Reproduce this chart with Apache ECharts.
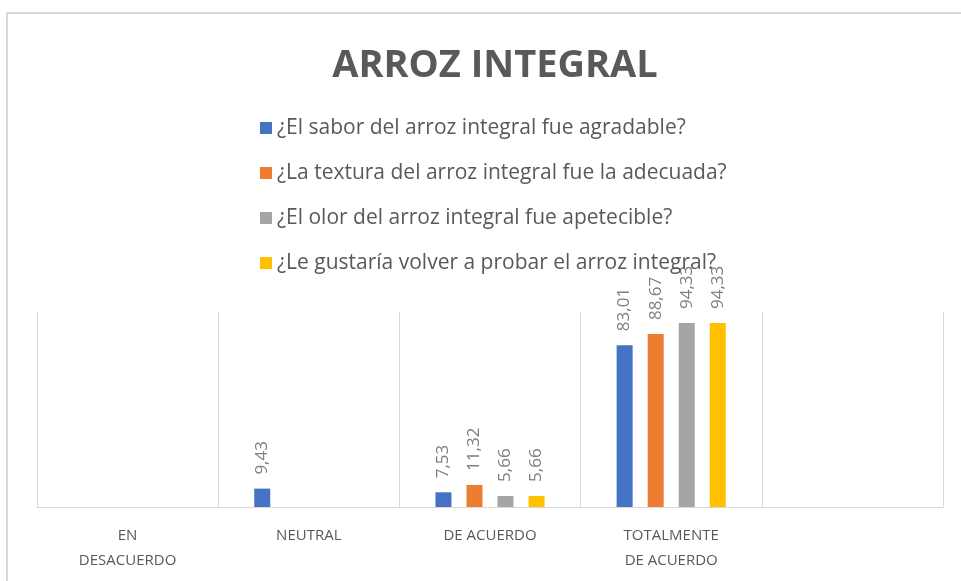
<!DOCTYPE html>
<html>
<head>
<meta charset="utf-8">
<script src="https://cdn.jsdelivr.net/npm/echarts@6/dist/echarts.min.js"></script>
<style>
  html, body { margin: 0; padding: 0; background: #fff; }
  #chart { width: 961px; height: 581px; }
</style>
</head>
<body>
<div id="chart"></div>
<script>
// categories and answers (percentages)
var categories = ['EN\nDESACUERDO', 'NEUTRAL', 'DE ACUERDO', 'TOTALMENTE\nDE ACUERDO', '']
var seriesNames = [
  '¿El sabor del arroz integral fue agradable?',
  '¿La textura del arroz integral fue la adecuada?',
  '¿El olor del arroz integral fue apetecible?',
  '¿Le gustaría volver a probar el arroz integral?'
]
var sabor = [null, 9.43, 7.53, 83.01, null]
var textura = [null, null, 11.32, 88.67, null]
var olor = [null, null, 5.66, 94.33, null]
var volver = [null, null, 5.66, 94.33, null]

var colors = ['#4472c4', '#ed7d31', '#a5a5a5', '#ffc000']
var font = '"Open Sans", sans-serif'

var myChart = echarts.init(document.getElementById('chart'))

function makeSeries (name, data) {
  return {
    name: name,
    type: 'bar',
    data: data,
    barWidth: 16,
    barGap: '94%',
    label: {
      show: true,
      position: 'top',
      rotate: 90,
      align: 'left',
      verticalAlign: 'middle',
      distance: 14,
      color: '#7f7f7f',
      fontFamily: font,
      fontSize: 17,
      formatter: function (p) {
        return p.value == null ? '' : p.value.toFixed(2).replace('.', ',')
      }
    }
  }
}

myChart.setOption({
  color: colors,
  animation: false,
  title: {
    text: 'ARROZ INTEGRAL',
    left: 490,
    textAlign: 'center',
    top: 42,
    textStyle: {
      color: '#595959',
      fontFamily: font,
      fontWeight: 'bold',
      fontSize: 38
    }
  },
  legend: {
    orient: 'vertical',
    left: 255,
    top: 112,
    itemWidth: 12,
    itemHeight: 12,
    itemGap: 23,
    icon: 'rect',
    data: seriesNames,
    textStyle: {
      color: '#595959',
      fontFamily: font,
      fontSize: 21,
      lineHeight: 22
    }
  },
  graphic: [{
    type: 'rect',
    shape: { x: 7, y: 13, width: 980, height: 600 },
    style: { fill: 'none', stroke: '#d9d9d9', lineWidth: 2 },
    silent: true
  }],
  grid: {
    left: 37,
    right: 18,
    top: 312,
    bottom: 74
  },
  xAxis: {
    type: 'category',
    data: categories,
    axisLine: { lineStyle: { color: '#d9d9d9', width: 1 } },
    axisTick: { show: false },
    splitLine: { show: true, lineStyle: { color: '#d9d9d9', width: 1 } },
    axisLabel: {
      color: '#595959',
      fontFamily: font,
      fontSize: 15,
      lineHeight: 25,
      margin: 16,
      interval: 0
    }
  },
  yAxis: {
    type: 'value',
    min: 0,
    max: 100,
    show: false,
    splitLine: { show: false }
  },
  series: [
    makeSeries(seriesNames[0], sabor),
    makeSeries(seriesNames[1], textura),
    makeSeries(seriesNames[2], olor),
    makeSeries(seriesNames[3], volver)
  ]
})
</script>
</body>
</html>
